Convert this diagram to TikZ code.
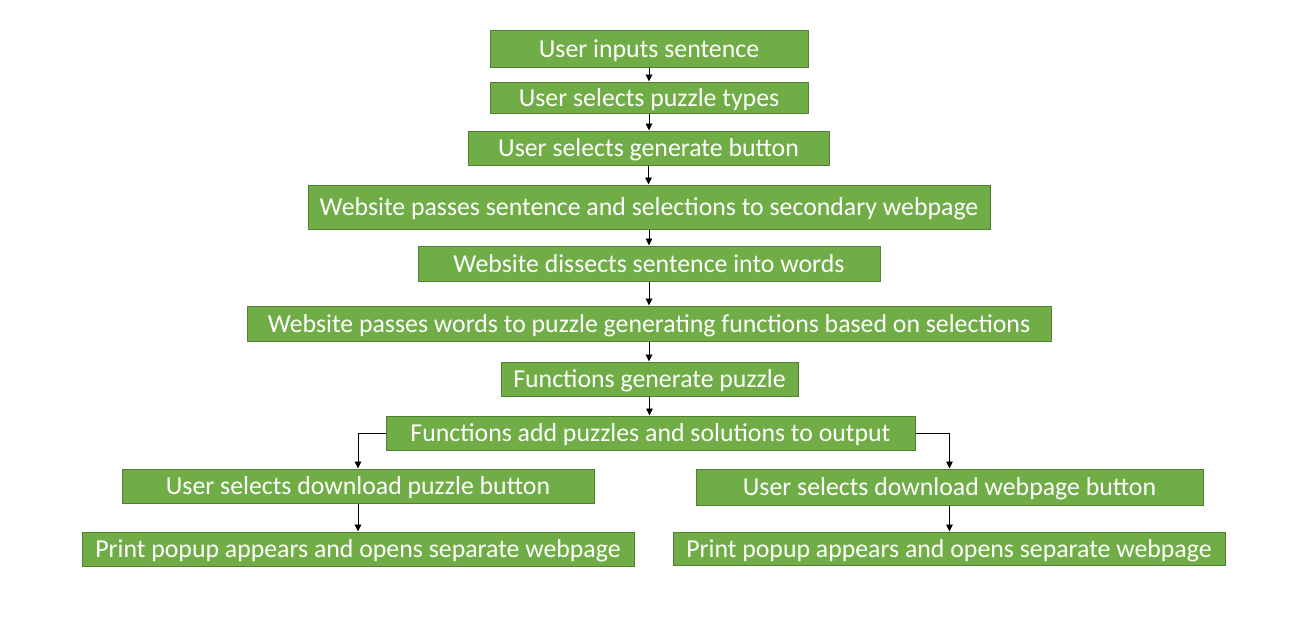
\documentclass[tikz,border=0pt]{standalone}
\usepackage{fontspec}
\setmainfont{Carlito}
\usetikzlibrary{arrows.meta}
\definecolor{boxfill}{HTML}{70AD47}
\definecolor{boxline}{HTML}{507E32}
\begin{document}
\begin{tikzpicture}[x=1pt,y=-1pt,
  box/.style={draw=boxline,line width=1pt,fill=boxfill,text=white,inner sep=0pt,
    font=\fontsize{25.8}{30}\selectfont,anchor=center,text height=20pt,text depth=3pt},
  arr/.style={draw=black,line width=0.9pt,-{Triangle[length=7pt,width=6.5pt]}}]
\useasboundingbox (0,0) rectangle (1302,637);
\node[box,minimum width=318pt,minimum height=37pt] (b1) at (649,48.5) {User inputs sentence};
\node[box,minimum width=318pt,minimum height=31pt] (b2) at (649,97.5) {User selects puzzle types};
\node[box,minimum width=361pt,minimum height=34pt] (b3) at (648.5,148) {User selects generate button};
\node[box,minimum width=682pt,minimum height=44pt] (b4) at (649,207) {Website passes sentence and selections to secondary webpage};
\node[box,minimum width=462pt,minimum height=35pt] (b5) at (649,263.5) {Website dissects sentence into words};
\node[box,minimum width=804pt,minimum height=35pt] (b6) at (649,323.5) {Website passes words to puzzle generating functions based on selections};
\node[box,minimum width=297pt,minimum height=34pt] (b7) at (649.5,379) {Functions generate puzzle};
\node[box,minimum width=529pt,minimum height=34pt] (b8) at (650.5,433) {Functions add puzzles and solutions to output};
\node[box,minimum width=472pt,minimum height=34pt] (b9) at (358,486) {User selects download puzzle button};
\node[box,minimum width=552pt,minimum height=34pt] (b10) at (358,549) {Print popup appears and opens separate webpage};
\node[box,minimum width=507pt,minimum height=36pt] (b11) at (949.5,487) {User selects download webpage button};
\node[box,minimum width=552pt,minimum height=33pt] (b12) at (949,548.5) {Print popup appears and opens separate webpage};
\draw[arr] (b1.south) -- (b1.south |- b2.north);
\draw[arr] (b2.south) -- (b2.south |- b3.north);
\draw[arr] (b3.south) -- (b3.south |- b4.north);
\draw[arr] (b4.south) -- (b4.south |- b5.north);
\draw[arr] (b5.south) -- (b5.south |- b6.north);
\draw[arr] (b6.south) -- (b6.south |- b7.north);
\draw[arr] (b7.south) -- (b7.south |- b8.north);
\draw[arr] (b8.west) -| (b9.north);
\draw[arr] (b8.east) -| (b11.north);
\draw[arr] (b9.south) -- (b10.north -| b9.south);
\draw[arr] (b11.south) -- (b12.north -| b11.south);
\end{tikzpicture}
\end{document}
